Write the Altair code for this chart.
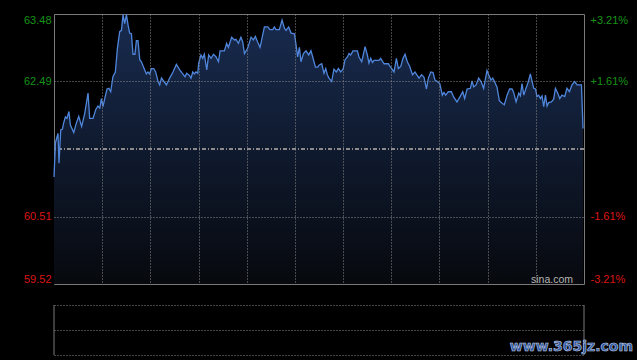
import altair as alt
import pandas as pd

# ---- data (minutes since open, price) ----
minutes = [0, 0.9, 1.9, 2.5, 3.1, 4.2, 5.2, 6.0, 7.1, 8.1,
           9.3, 10.2, 12.3, 13.9, 15.4, 17.2, 19.1, 21.2, 22.2, 24.3,
           26.0, 27.4, 28.5, 29.5, 30.5, 31.6, 33.0, 34.2, 35.3, 36.7,
           38.2, 39.5, 40.9, 42.0, 43.0, 44.0, 45.1, 46.1, 47.1, 48.2,
           49.2, 50.4, 51.3, 52.3, 53.4, 54.4, 56.5, 57.5, 58.5, 59.6,
           60.6, 62.1, 63.3, 64.8, 65.8, 66.9, 68.5, 70.0, 72.0, 74.1,
           76.2, 78.3, 79.9, 81.6, 82.6, 84.3, 85.3, 86.4, 87.4, 88.4,
           89.5, 90.1, 91.5, 92.6, 93.6, 95.1, 96.3, 97.8, 99.3, 100.9,
           102.4, 103.4, 106.1, 107.5, 108.6, 110.6, 112.3, 113.3, 114.8, 116.4,
           117.5, 118.6, 120.6, 122.7, 124.2, 125.4, 126.8, 128.3, 131.0, 133.1,
           134.5, 136.2, 137.2, 138.2, 140.3, 142.0, 143.5, 144.5, 146.1, 147.6,
           149.7, 150.7, 151.7, 152.8, 153.8, 155.3, 156.9, 158.6, 160.0, 161.1,
           162.8, 164.2, 165.0, 166.7, 168.1, 169.2, 170.2, 171.2, 172.9, 174.3,
           175.8, 177.1, 178.5, 180.0, 181.2, 182.7, 183.7, 184.7, 186.2, 188.9,
           189.9, 191.6, 193.7, 195.1, 196.1, 197.2, 198.3, 199.3, 202.4, 203.4,
           205.5, 208.2, 209.0, 210.3, 211.7, 213.2, 214.4, 215.9, 217.3, 218.6,
           220.0, 221.5, 223.2, 224.8, 225.8, 227.3, 228.9, 230.4, 231.9, 233.1,
           234.6, 236.0, 237.2, 238.7, 240.2, 241.8, 242.8, 243.9, 245.5, 247.4,
           248.9, 250.9, 253.1, 254.5, 255.7, 257.2, 259.3, 260.3, 261.3, 262.8,
           264.4, 265.9, 267.5, 269.6, 270.6, 272.1, 273.2, 274.2, 275.8, 277.3,
           279.0, 280.4, 282.1, 283.7, 285.2, 286.2, 287.7, 289.4, 290.4, 291.4,
           292.5, 293.9, 295.1, 296.6, 297.6, 298.7, 299.8, 300.7, 301.8, 302.9,
           303.9, 304.9, 306.0, 307.0, 308.0, 309.7, 311.1, 312.2, 313.6, 314.9,
           316.3, 318.0, 319.4, 320.9, 322.5, 324.2, 325.7, 328.4, 329.4]

prices = [61.09, 61.59, 61.68, 61.73, 61.29, 61.78, 61.79, 61.88, 61.97, 61.95,
          62.05, 61.85, 61.74, 61.88, 61.98, 61.83, 62.02, 62.32, 61.95, 61.95,
          62.08, 62.13, 62.10, 62.24, 62.12, 62.24, 62.38, 62.39, 62.34, 62.56,
          62.63, 62.98, 63.22, 63.24, 63.47, 63.34, 63.47, 63.32, 63.20, 63.19,
          62.89, 62.89, 63.09, 63.09, 62.81, 62.78, 62.66, 62.60, 62.63, 62.60,
          62.68, 62.68, 62.63, 62.49, 62.44, 62.54, 62.49, 62.44, 62.54, 62.63,
          62.74, 62.66, 62.61, 62.56, 62.61, 62.58, 62.54, 62.63, 62.60, 62.63,
          62.61, 62.76, 62.88, 62.83, 62.89, 62.66, 62.88, 62.83, 62.89, 62.85,
          62.78, 62.94, 62.94, 63.05, 62.99, 63.14, 63.10, 63.11, 63.05, 63.14,
          63.07, 62.90, 62.98, 63.14, 63.10, 63.15, 63.07, 62.99, 63.29, 63.29,
          63.25, 63.25, 63.29, 63.25, 63.25, 63.39, 63.27, 63.24, 63.29, 63.20,
          63.19, 63.03, 62.85, 62.99, 62.78, 62.90, 62.94, 62.88, 62.94, 62.85,
          62.70, 62.70, 62.73, 62.75, 62.61, 62.68, 62.59, 62.54, 62.49, 62.67,
          62.63, 62.68, 62.63, 62.67, 62.81, 62.85, 62.90, 62.88, 62.94, 62.94,
          62.85, 62.78, 63.00, 62.88, 62.76, 62.83, 62.77, 62.80, 62.80, 62.83,
          62.75, 62.75, 62.72, 62.68, 62.63, 62.83, 62.68, 62.71, 62.83, 62.89,
          62.78, 62.71, 62.59, 62.63, 62.59, 62.54, 62.59, 62.55, 62.38, 62.54,
          62.63, 62.62, 62.51, 62.49, 62.46, 62.29, 62.33, 62.29, 62.34, 62.34,
          62.26, 62.19, 62.28, 62.34, 62.24, 62.38, 62.39, 62.50, 62.41, 62.44,
          62.54, 62.49, 62.39, 62.65, 62.59, 62.51, 62.54, 62.49, 62.41, 62.21,
          62.17, 62.15, 62.29, 62.38, 62.38, 62.33, 62.19, 62.32, 62.28, 62.46,
          62.29, 62.39, 62.47, 62.60, 62.50, 62.39, 62.38, 62.27, 62.29, 62.24,
          62.28, 62.12, 62.29, 62.13, 62.18, 62.19, 62.23, 62.39, 62.32, 62.24,
          62.29, 62.27, 62.39, 62.34, 62.44, 62.49, 62.44, 62.44, 61.80]

assert len(minutes) == len(prices)

prev_close = 61.50
price_ticks = [63.48, 62.49, 60.51, 59.52]
pct_labels = ["+3.21%", "+1.61%", "-1.61%", "-3.21%"]
grid_minutes = [30, 60, 90, 120, 150, 180, 210, 240, 270, 300]
session_minutes = 330
y_lo, y_hi = 59.52, 63.48

GREEN = "#169416"
RED = "#dd1414"
GRID = "#8a8a8a"
BORDER = "#7a7a7a"
FONT = "Liberation Sans"

df = pd.DataFrame({"t": minutes, "p": prices})

x_scale = alt.Scale(domain=[0, session_minutes], nice=False, zero=False)
y_scale = alt.Scale(domain=[y_lo, y_hi], nice=False, zero=False)

x_axis = alt.Axis(values=grid_minutes, labels=False, ticks=False, domain=False,
                  grid=True, gridColor=GRID, gridDash=[1, 2], gridWidth=1,
                  title=None, zindex=1)
x_enc = alt.X("t:Q", scale=x_scale, axis=x_axis)

label_color = alt.condition(f"datum.value > {prev_close}", alt.value(GREEN), alt.value(RED))

left_axis = alt.Axis(values=price_ticks, format=".2f", labelFlush=True,
                     labelColor=label_color, labelFont=FONT, labelFontSize=11,
                     labelPadding=3, ticks=False, domain=False, grid=True,
                     gridColor=GRID, gridDash=[1, 2],
                     gridOpacity=alt.condition(f"datum.value > {y_hi - 0.1} || datum.value < {y_lo + 0.1}",
                                               alt.value(0), alt.value(1)),
                     title=None, zindex=1)

expr = "''"
for v, lab in reversed(list(zip(price_ticks, pct_labels))):
    expr = f"abs(datum.value - {v}) < 0.001 ? '{lab}' : ({expr})"

right_axis = alt.Axis(values=price_ticks, orient="right", labelExpr=expr,
                      labelFlush=True, labelColor=label_color, labelFont=FONT,
                      labelFontSize=11, labelPadding=6, ticks=False,
                      domain=False, grid=False, title=None)

gradient = alt.Gradient(
    gradient="linear",
    stops=[alt.GradientStop(color="#07090e", offset=0),
           alt.GradientStop(color="#182b4f", offset=1)],
    x1=1, x2=1, y1=1, y2=0,
)

area = alt.Chart(df).mark_area(color=gradient, interpolate="linear").encode(
    x=x_enc,
    y=alt.Y("p:Q", scale=y_scale, axis=left_axis),
    y2=alt.datum(y_lo),
)

base_rule = alt.Chart(df).mark_rule(color="#8c8c8c", strokeDash=[4, 2, 1, 2], strokeWidth=1).encode(
    y=alt.YDatum(prev_close, type="quantitative", scale=y_scale, axis=None)
)

line = alt.Chart(df).mark_line(color="#4f86db", strokeWidth=1.3).encode(
    x=x_enc,
    y=alt.Y("p:Q", scale=y_scale, axis=right_axis),
)

sina = alt.Chart(pd.DataFrame({"t": [session_minutes], "p": [y_lo], "s": ["sina.com"]})).mark_text(
    align="right", baseline="alphabetic", dx=-11, dy=-1.5, color="#b4b4b4",
    font=FONT, fontSize=10.5,
).encode(
    x=x_enc,
    y=alt.Y("p:Q", scale=y_scale, axis=None),
    text="s:N",
)

main = alt.layer(area, base_rule, line, sina).resolve_axis(y="independent").properties(
    width=530, height=270,
    view=alt.ViewBackground(stroke=BORDER, strokeWidth=1),
)

# ---- volume panel (empty frame) ----
frame = pd.DataFrame({"t": [0, session_minutes], "y0": [0, 0], "y1": [1, 1]})
vol_y_scale = alt.Scale(domain=[0, 1], nice=False, zero=False)
vol_axis = alt.Axis(values=[0, 0.5, 1], labels=False, ticks=False, domain=False,
                    grid=True, gridColor=GRID, gridDash=[1, 2], title=None)

vol_frame = alt.Chart(frame).mark_rule(color=BORDER, strokeWidth=1).encode(
    x=alt.X("t:Q", scale=x_scale, axis=None),
    y=alt.Y("y0:Q", scale=vol_y_scale, axis=vol_axis),
    y2="y1:Q",
)

wm = alt.Chart(pd.DataFrame({"t": [session_minutes], "y0": [0], "s": ["www.365jz.com"]})).mark_text(
    align="right", baseline="alphabetic", dx=49, dy=-4, color="#2a55a0",
    font="DejaVu Sans", fontWeight="bold", fontSize=14,
    stroke="#c8d2e4", strokeWidth=0.6,
).encode(
    x=alt.X("t:Q", scale=x_scale, axis=None),
    y=alt.Y("y0:Q", scale=vol_y_scale, axis=vol_axis),
    text="s:N",
)

vol = alt.layer(vol_frame, wm).properties(width=530, height=50)

chart = alt.vconcat(main, vol, spacing=18).properties(
    background="#000000",
    padding={"left": 22, "top": 11, "right": 4, "bottom": 4},
).configure(font=FONT).configure_view(strokeWidth=0)

chart.save("out.html", embed_options={"renderer": "svg", "actions": False})
